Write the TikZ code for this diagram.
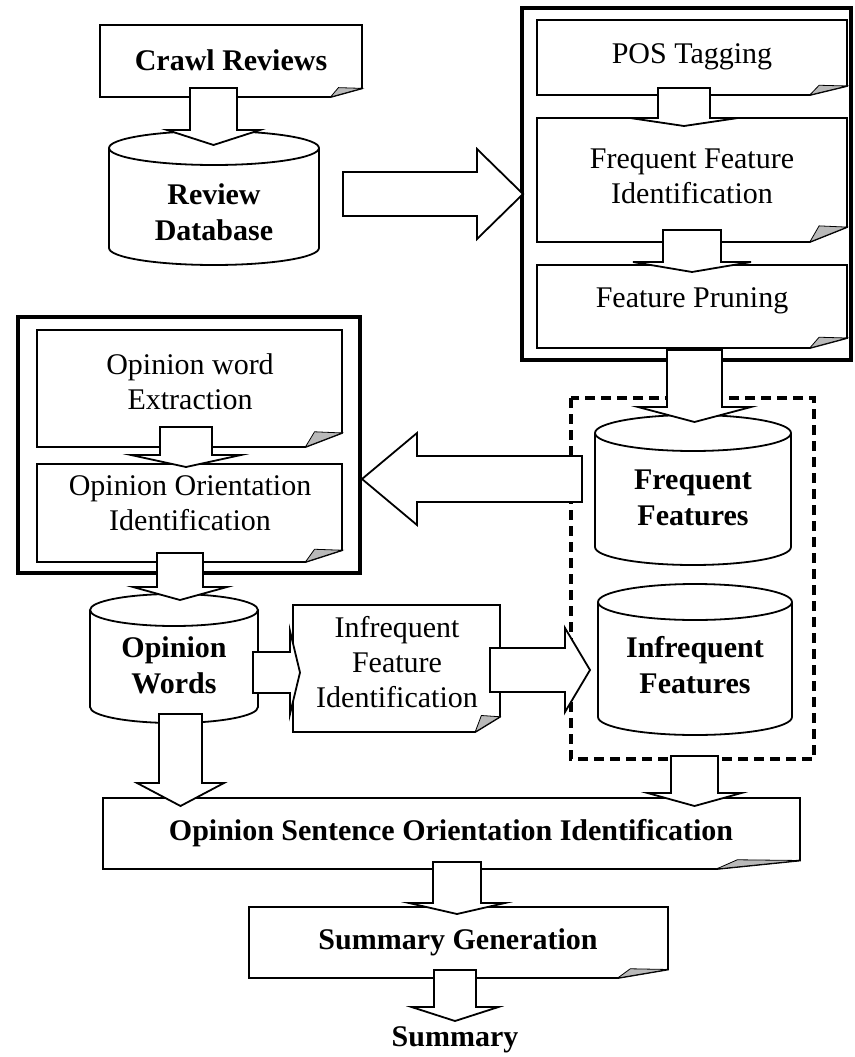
\documentclass[tikz,border=0pt]{standalone}
\usepackage{fontspec}
\setmainfont{Liberation Serif}
\usetikzlibrary{calc}
\tikzset{
 docline/.style={draw=black, line width=1.8pt, fill=white, line join=miter},
 foldfill/.style={fill=gray!55, draw=black, line width=0.8pt},
 cylline/.style={draw=black, line width=1.8pt},
 barrow/.style={draw=black, line width=1.8pt, fill=white, line join=miter},
 group/.style={draw=black, line width=3.2pt},
 dgroup/.style={draw=black, line width=3.2pt, dash pattern=on 10pt off 6pt},
 rt/.style={font=\fontsize{30}{35}\selectfont, align=center, inner sep=0pt},
 bt/.style={font=\fontsize{30}{36}\selectfont\bfseries, align=center, inner sep=0pt},
}
% document shape: x1,y1,x2,y2
\newcommand\docshape[4]{%
 \draw[docline] (#1,#2) -- (#3,#2) -- (#3,{#4-0.12*(#4-#2)}) -- ({#3-0.12*(#3-#1)},#4) -- (#1,#4) -- cycle;
 \draw[foldfill] ({#3-0.12*(#3-#1)},#4) -- ({#3-0.09*(#3-#1)},{#4-0.13*(#4-#2)}) -- (#3,{#4-0.12*(#4-#2)}) -- cycle;}
% cylinder: cx, ytop, ybot, rx, ry
\newcommand\cylshape[5]{%
 \draw[cylline] ({#1-#4},#2) -- ({#1-#4},#3) arc[start angle=180,end angle=360,x radius=#4pt,y radius=#5pt] -- ({#1+#4},#2);
 \draw[cylline] (#1,#2) ellipse[x radius=#4pt, y radius=#5pt];}
% vertical block arrow: cx, ystart, yheadbase, ytip, shaft half, head half
\newcommand\barrowv[6]{%
 \draw[barrow] ({#1-#5},#2) -- ({#1-#5},#3) -- ({#1-#6},#3) -- (#1,#4) -- ({#1+#6},#3) -- ({#1+#5},#3) -- ({#1+#5},#2) -- cycle;}
% horizontal block arrow: cy, xstart, xheadbase, xtip, shaft half, head half
\newcommand\barrowh[6]{%
 \draw[barrow] (#2,{#1-#5}) -- (#3,{#1-#5}) -- (#3,{#1-#6}) -- (#4,#1) -- (#3,{#1+#6}) -- (#3,{#1+#5}) -- (#2,{#1+#5}) -- cycle;}
\begin{document}
\begin{tikzpicture}[x=1pt,y=-1pt]
\fill[white] (0,0) rectangle (854,1057);
\useasboundingbox (0,0) rectangle (854,1057);
% groups
\draw[group] (522,8) rectangle (851,360);
\draw[group] (18,317) rectangle (360,573);
\draw[dgroup] (571,398) rectangle (814,759);
% documents
\docshape{100}{25}{362}{97}
\node[bt] (crawl) at (231,60) {Crawl Reviews};
\docshape{537}{20}{847}{95}
\node[rt] (pos) at (692,57) {POS Tagging};
\docshape{537}{118}{847}{242}
\node[rt] (ffi) at (692,176) {Frequent Feature\\Identification};
\docshape{537}{265}{847}{348}
\node[rt] (fp) at (692,301) {Feature Pruning};
\docshape{37}{330}{342}{447}
\node[rt] (owe) at (190,382) {Opinion word\\Extraction};
\docshape{37}{464}{342}{562}
\node[rt] (ooi) at (190,503) {Opinion Orientation\\Identification};
\docshape{293}{605}{500}{732}
\node[rt] (ifi) at (397,662) {Infrequent\\Feature\\Identification};
\docshape{103}{798}{800}{869}
\node[bt] (osoi) at (451,833) {Opinion Sentence Orientation Identification};
\docshape{249}{907}{668}{978}
\node[bt] (sg) at (458,942) {Summary Generation};
\node[bt] (summ) at (455,1040) {Summary};
% cylinders
\cylshape{214}{148}{248}{105}{17}
\node[bt] (db) at (214,212) {Review\\Database};
\cylshape{693}{433}{547}{98}{18}
\node[bt] (ff) at (693,498) {Frequent\\Features};
\cylshape{695}{602}{717}{97}{18}
\node[bt] (infeat) at (695,665) {Infrequent\\Features};
\cylshape{174}{610}{707}{84}{16}
\node[bt] (ow) at (174,665) {Opinion\\Words};
% block arrows
\barrowv{213.5}{88}{130}{145}{23.5}{46.5}
\barrowh{194}{343}{477}{523}{22}{45}
\barrowv{684}{88}{118}{126}{26}{54}
\barrowv{692}{230}{262}{272}{29}{59}
\barrowv{694.5}{350}{407}{422}{27.5}{56.5}
\barrowh{479}{582}{417}{362}{23}{46}
\barrowv{186}{427}{455}{467}{26}{55}
\barrowv{180}{553}{587}{600}{23}{47}
\barrowh{672.5}{253}{290}{300}{20.5}{41.5}
\barrowh{670}{490}{565}{590}{22}{42}
\barrowv{180.5}{714}{783}{806}{21.5}{43.5}
\barrowv{694.5}{756}{793}{806}{23.5}{47}
\barrowv{457}{862}{903}{914}{24}{48}
\barrowv{455}{970}{1007}{1021}{21}{43.5}
\end{tikzpicture}
\end{document}
